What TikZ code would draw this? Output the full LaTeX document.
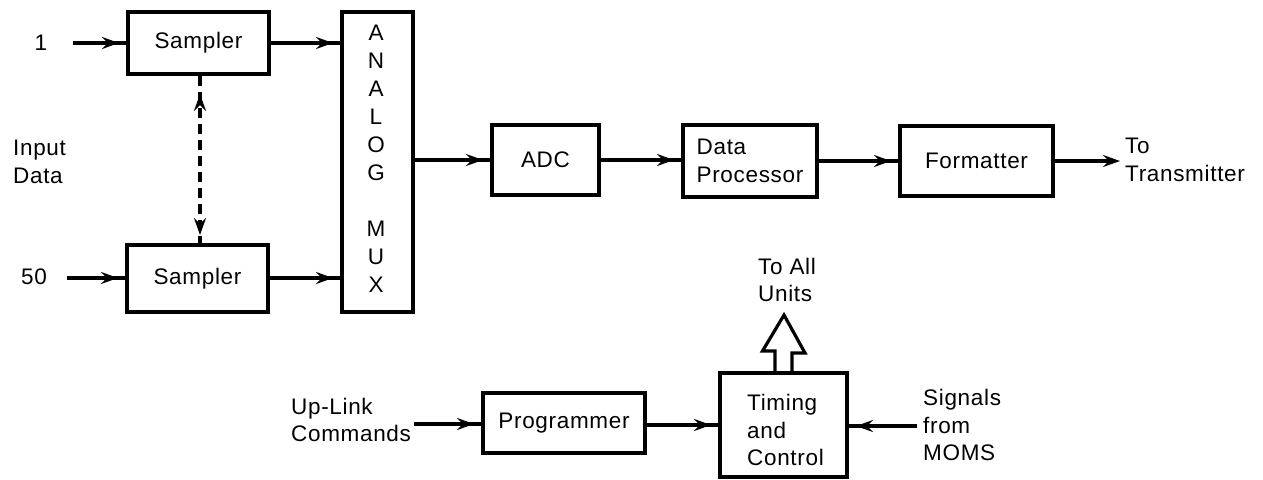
\documentclass[tikz,border=0pt]{standalone}
\usepackage{fontspec}
\setmainfont[LetterSpace=3]{Liberation Sans}
\usetikzlibrary{arrows.meta,decorations.markings}
\begin{document}
\begin{tikzpicture}[x=1pt,y=-1pt,
  font=\fontsize{22.5}{27.5}\selectfont,
  flowtip/.tip={Stealth[length=17pt,width=12pt,inset=6pt]},
  blk/.style={draw, line width=4pt, inner sep=0pt, align=center},
  txt/.style={inner sep=0pt, align=left},
  wire/.style={line width=3.4pt},
  flow/.style={wire, postaction={decorate},
    decoration={markings, mark=at position -7pt with {\arrow{flowtip}}}},
  endflow/.style={wire, -flowtip},
  sync/.style={line width=3.4pt, dash pattern=on 10pt off 6pt, postaction={decorate},
    decoration={markings,
      mark=at position 18pt with {\arrowreversed{flowtip}},
      mark=at position -8pt with {\arrow{flowtip}}}},
]
\useasboundingbox (0,0) rectangle (1263,479);

% blocks
\node[blk, minimum width=141pt, minimum height=62pt] (s1) at (198.5,43) {Sampler};
\node[blk, minimum width=141pt, minimum height=67pt] (s2) at (197.5,278.5) {Sampler};
\node[blk, minimum width=71pt, minimum height=300pt] (mux) at (377.5,162) {};
\node[inner sep=0pt, align=center, font=\fontsize{22.5}{28}\selectfont] (muxlbl) at (376,159)
  {A\\N\\A\\L\\O\\G\\[28pt]M\\U\\X};
\node[blk, minimum width=107pt, minimum height=70pt] (adc) at (545.5,160) {ADC};
\node[blk, minimum width=134pt, minimum height=72pt, align=left] (dp) at (750,161) {Data\\Processor};
\node[blk, minimum width=153pt, minimum height=70pt] (fmt) at (976.5,161) {Formatter};
\node[blk, minimum width=162pt, minimum height=60pt] (prog) at (564,423) {Programmer};
\node[blk, minimum width=127pt, minimum height=104pt] (tc) at (783.5,425) {};
\node[txt, anchor=west] (tclbl) at (747,430) {Timing\\and\\Control};

% labels
\node[txt] (n1) at (41,43) {1};
\node[txt] (n50) at (34,277) {50};
\node[txt, anchor=west] (inp) at (13,162) {Input\\Data};
\node[txt, anchor=west] (tx) at (1125,160) {To\\Transmitter};
\node[txt, anchor=west] (all) at (758,280) {To All\\Units};
\node[txt, anchor=west] (up) at (291,420) {Up-Link\\Commands};
\node[txt, anchor=west] (sig) at (923,425) {Signals\\from\\MOMS};

\coordinate (in1) at (73,43);
\coordinate (in50) at (67,278);
\coordinate (txend) at (1120,161);
\coordinate (upend) at (414,424);
\coordinate (sigend) at (917,426);

% signal paths
\draw[flow] (in1) -- (s1.west |- in1);
\draw[flow] (in50) -- (s2.west |- in50);
\draw[flow] (s1.east) -- (s1.east -| mux.west);
\draw[flow] (s2.east |- in50) -- (mux.west |- in50);
\draw[flow] (mux.east |- adc.west) -- (adc.west);
\draw[flow] (adc.east) -- (dp.west |- adc.east);
\draw[flow] (dp.east |- fmt.west) -- (fmt.west);
\draw[endflow] (fmt.east) -- (txend);
\draw[sync] ([xshift=1.5pt]s1.south) -- ([xshift=2.5pt]s2.north);
\draw[flow] (upend) -- (prog.west |- upend);
\draw[flow] (prog.east |- tc.west) -- (tc.west);
\draw[flow] (sigend) -- (tc.east |- sigend);

% broad output arrow to all units
\draw[line width=3.2pt, line join=miter]
  (tc.north) ++(-8.5,0) -- ++(0,-20) -- ++(-12.5,0) -- (784,315)
  -- (805,353) -- (792,353) -- (792,373);
\end{tikzpicture}
\end{document}
